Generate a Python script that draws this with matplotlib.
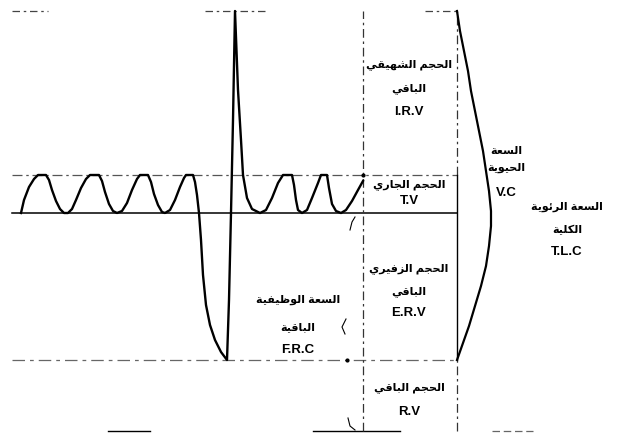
import matplotlib
matplotlib.use("Agg")
import matplotlib.pyplot as plt

plt.rcParams['font.family'] = ['Liberation Sans', 'DejaVu Sans']

# spirogram trace: time (arbitrary units) and lung volume (arbitrary units)
t = [21, 24, 29, 34, 38, 46, 49, 52, 56, 60, 64, 68, 72, 76, 81, 86, 90, 99,
     102, 105, 109, 113, 117, 122, 127, 132, 137, 140, 148, 151, 154, 158, 162,
     165, 170, 175, 180, 184, 186, 193, 195, 197, 199, 201, 203, 206, 210, 215,
     221, 227, 229, 231, 233, 235, 238, 241, 243, 247, 252, 260, 266, 272, 278,
     283, 292, 294, 296, 298, 302, 307, 312, 318, 321, 327, 329, 332, 336, 341,
     346, 352, 358, 363]
vol = [218, 231, 244, 252, 256, 256, 251, 241, 230, 222, 218, 218, 222, 231,
       243, 252, 256, 256, 250, 239, 227, 220, 218, 220, 228, 241, 252, 256,
       256, 249, 237, 226, 219, 218, 221, 231, 244, 253, 256, 256, 249, 236,
       218, 191, 156, 126, 106, 91, 79, 71, 131, 218, 311, 420, 341, 291, 256,
       233, 222, 218, 221, 233, 248, 256, 256, 246, 231, 221, 218, 221, 233,
       248, 256, 256, 243, 227, 220, 218, 221, 230, 241, 250]

# volume levels
TLC = 420
END_INSP = 256
FRC = 218
RV = 71

# vital capacity arc
vc_t = [457, 460, 464, 468, 471, 475, 479, 483, 486, 489, 491, 491, 489, 486,
        481, 475, 469, 463, 457]
vc_v = [420, 400, 380, 360, 340, 320, 300, 280, 260, 240, 220, 205, 185, 165,
        145, 125, 105, 88, 71]

# Arabic helper: contextual forms (isolated, final, initial, medial)
FORMS = {
    'ا': ('\uFE8D', '\uFE8E'), 'ب': ('\uFE8F', '\uFE90', '\uFE91', '\uFE92'),
    'ة': ('\uFE93', '\uFE94'), 'ت': ('\uFE95', '\uFE96', '\uFE97', '\uFE98'),
    'ج': ('\uFE9D', '\uFE9E', '\uFE9F', '\uFEA0'), 'ح': ('\uFEA1', '\uFEA2', '\uFEA3', '\uFEA4'),
    'ر': ('\uFEAD', '\uFEAE'), 'ز': ('\uFEAF', '\uFEB0'),
    'س': ('\uFEB1', '\uFEB2', '\uFEB3', '\uFEB4'), 'ش': ('\uFEB5', '\uFEB6', '\uFEB7', '\uFEB8'),
    'ط': ('\uFEC1', '\uFEC2', '\uFEC3', '\uFEC4'), 'ظ': ('\uFEC5', '\uFEC6', '\uFEC7', '\uFEC8'),
    'ع': ('\uFEC9', '\uFECA', '\uFECB', '\uFECC'), 'ف': ('\uFED1', '\uFED2', '\uFED3', '\uFED4'),
    'ق': ('\uFED5', '\uFED6', '\uFED7', '\uFED8'), 'ك': ('\uFED9', '\uFEDA', '\uFEDB', '\uFEDC'),
    'ل': ('\uFEDD', '\uFEDE', '\uFEDF', '\uFEE0'), 'م': ('\uFEE1', '\uFEE2', '\uFEE3', '\uFEE4'),
    'ه': ('\uFEE9', '\uFEEA', '\uFEEB', '\uFEEC'), 'و': ('\uFEED', '\uFEEE'),
    'ي': ('\uFEF1', '\uFEF2', '\uFEF3', '\uFEF4'), 'ئ': ('\uFE89', '\uFE8A', '\uFE8B', '\uFE8C'),
}


def ar(text):
    if not any(ch in FORMS for ch in text):
        return text
    out = []
    for i, ch in enumerate(text):
        f = FORMS.get(ch)
        if f is None:
            out.append(ch)
            continue
        prev = text[i - 1] if i > 0 else ''
        nxt = text[i + 1] if i + 1 < len(text) else ''
        jp = prev in FORMS and len(FORMS[prev]) == 4
        jn = len(f) == 4 and nxt in FORMS
        if jp and jn:
            out.append(f[3])
        elif jp:
            out.append(f[1])
        elif jn:
            out.append(f[2])
        else:
            out.append(f[0])
    return ''.join(reversed(out))


labels = [
    (['الحجم الشهيقي', 'الباقي', 'I.R.V'], 409, [366, 342, 319]),
    (['الحجم الجاري', 'T.V'], 409, [246, 230]),
    (['السعة', 'الحيوية', 'V.C'], 506, [280, 263, 238]),
    (['السعة الرئوية', 'الكلية', 'T.L.C'], 567, [224, 201, 179]),
    (['الحجم الزفيري', 'الباقي', 'E.R.V'], 409, [162, 139, 118]),
    (['السعة الوظيفية', 'الباقية', 'F.R.C'], 298, [131, 104, 81]),
    (['الحجم الباقي', 'R.V'], 409, [43, 19]),
]

fig = plt.figure(figsize=(6.34, 4.33), dpi=100)
ax = fig.add_axes([0, 0, 1, 1])
ax.set_xlim(0, 634)
ax.set_ylim(-2, 431)
ax.axis('off')

# level lines
for x0, x1 in [(12, 48), (205, 265), (425, 457)]:
    ax.plot([x0, x1], [TLC, TLC], color='#444', lw=0.9, ls=(0, (6, 3, 2, 3)))
ax.plot([12, 457], [END_INSP, END_INSP], color='#555', lw=0.9, ls=(0, (8, 3, 2, 3)))
ax.plot([12, 457], [FRC, FRC], color='black', lw=1.1)
ax.plot([12, 457], [RV, RV], color='#666', lw=0.9, ls=(0, (10, 4, 3, 4)))
for x0, x1 in [(108, 150), (313, 400)]:
    ax.plot([x0, x1], [0, 0], color='black', lw=1.0)
ax.plot([492, 533], [0, 0], color='#666', lw=0.9, ls=(0, (6, 3)))

# vertical guides
ax.plot([363, 363], [0, TLC], color='#333', lw=0.9, ls=(0, (7, 3, 2, 3)))
ax.plot([457, 457], [END_INSP, TLC], color='#333', lw=0.9, ls=(0, (7, 3, 2, 3)))
ax.plot([457, 457], [RV, END_INSP], color='black', lw=1.0)
ax.plot([457, 457], [0, RV], color='#333', lw=0.9, ls=(0, (7, 3, 2, 3)))

# spirogram and VC arc
ax.plot(t, vol, color='black', lw=1.7, solid_joinstyle='round')
ax.plot(vc_t, vc_v, color='black', lw=1.6, solid_joinstyle='round')

# partial brace for FRC
ax.plot([355, 352, 350], [214, 209, 201], color='black', lw=0.8)
ax.plot([346, 342, 345], [112, 104, 97], color='black', lw=0.8)
ax.plot([348, 350, 355], [13, 5, 1], color='black', lw=0.8)
ax.plot([363, 347], [END_INSP, RV], ls='none', marker='o', ms=2, color='black')

for lines, x, ys in labels:
    for s, y in zip(lines, ys):
        shaped = ar(s)
        size = 9.5 if shaped == s else 8
        ax.text(x, y, shaped, ha='center', va='center', fontsize=size,
                fontweight='bold')

fig.savefig('out.png', dpi=100)
